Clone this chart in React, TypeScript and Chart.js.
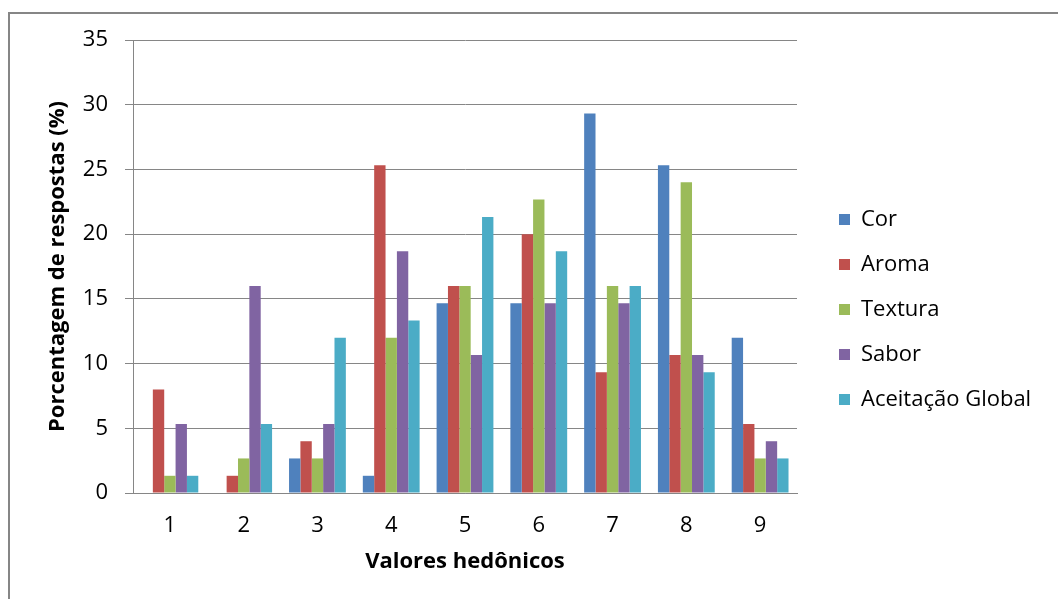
import React, { useEffect, useRef } from "react";
import { Chart, registerables } from "chart.js";

Chart.register(...registerables);

const categories = ["1", "2", "3", "4", "5", "6", "7", "8", "9"];
const seriesNames = ["Cor", "Aroma", "Textura", "Sabor", "Aceitação Global"];
const cor = [0, 0, 2.67, 1.33, 14.67, 14.67, 29.33, 25.33, 12];
const aroma = [8, 1.33, 4, 25.33, 16, 20, 9.33, 10.67, 5.33];
const textura = [1.33, 2.67, 2.67, 12, 16, 22.67, 16, 24, 2.67];
const sabor = [5.33, 16, 5.33, 18.67, 10.67, 14.67, 14.67, 10.67, 4];
const aceitacaoGlobal = [1.33, 5.33, 12, 13.33, 21.33, 18.67, 16, 9.33, 2.67];
const colors = ["#4F81BD", "#C0504D", "#9BBB59", "#8064A2", "#4BACC6"];
const yTitle = "Porcentagem de respostas (%)";
const xTitle = "Valores hedônicos";

const FONT = "'Open Sans', 'Liberation Sans', sans-serif";

const legendOffset = {
  id: "legendOffset",
  afterLayout(chart: any) {
    const l = chart.legend;
    if (l) {
      l.left += 19;
      l.right = chart.width;
      l.width = l.right - l.left;
    }
  },
};

export default function App() {
  const ref = useRef<HTMLCanvasElement | null>(null);
  useEffect(() => {
    if (!ref.current) return;
    const all = [cor, aroma, textura, sabor, aceitacaoGlobal];
    const chart = new Chart(ref.current, {
      type: "bar",
      data: {
        labels: categories,
        datasets: all.map((d, i) => ({
          label: seriesNames[i],
          data: d,
          backgroundColor: colors[i],
          borderWidth: 0,
          categoryPercentage: 0.77,
          barPercentage: 1.0,
        })),
      },
      plugins: [legendOffset],
      options: {
        animation: false,
        responsive: false,
        maintainAspectRatio: false,
        layout: { padding: { left: 41, top: 40, right: 61, bottom: 20 } },
        plugins: {
          tooltip: { enabled: false },
          legend: {
            position: "right",
            maxWidth: 200,
            labels: {
              boxWidth: 11,
              boxHeight: 11,
              padding: 23,
              color: "#000",
              font: { family: FONT, size: 22 },
            },
          },
        },
        scales: {
          x: {
            afterFit(scale: any) {
              scale.height = 86;
            },
            grid: { display: false, drawTicks: false },
            border: { display: true, color: "#868686", width: 1 },
            ticks: { color: "#000", padding: 20, font: { family: FONT, size: 22 } },
            title: {
              display: true,
              text: xTitle,
              color: "#000",
              padding: { top: 4, bottom: 4 },
              font: { family: FONT, size: 22, weight: "bold" },
            },
          },
          y: {
            min: 0,
            max: 35,
            afterFit(scale: any) {
              scale.width = 92;
            },
            grid: { color: "#868686", lineWidth: 1, tickLength: 8, drawTicks: true },
            border: { display: true, color: "#868686", width: 1 },
            ticks: { stepSize: 5, color: "#000", padding: 17, font: { family: FONT, size: 22 } },
            title: {
              display: true,
              text: yTitle,
              color: "#000",
              padding: { top: 4, bottom: 4 },
              font: { family: FONT, size: 22, weight: "bold" },
            },
          },
        },
      },
    });
    return () => chart.destroy();
  }, []);

  return (
    <div style={{ position: "fixed", left: 0, top: 0, width: 1058, height: 599, overflow: "hidden", background: "#fff" }}>
      <div
        style={{
          position: "absolute",
          left: 8,
          top: 12,
          width: 1200,
          height: 800,
          borderLeft: "2px solid #868686",
          borderTop: "2px solid #868686",
        }}
      />
      <canvas ref={ref} width={1058} height={599} style={{ position: "absolute", left: 0, top: 0, width: 1058, height: 599 }} />
    </div>
  );
}
